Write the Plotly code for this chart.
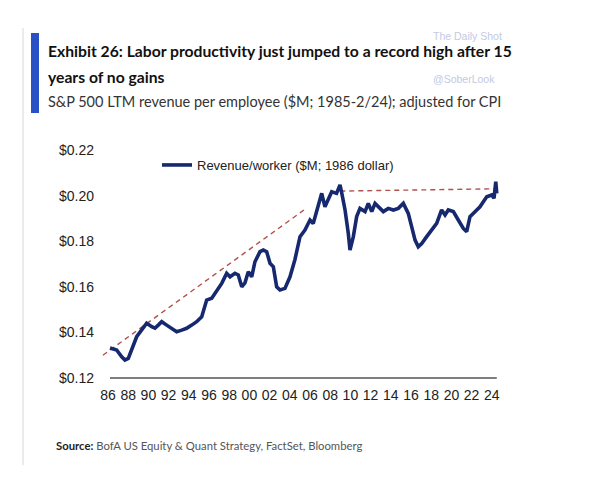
import plotly.graph_objects as go

# ---- data ----
years = [1986.20, 1986.86, 1987.36, 1987.68, 1988.01, 1988.50, 1988.84, 1989.34, 1989.83, 1990.33,
         1990.65, 1990.98, 1991.32, 1991.81, 1992.31, 1992.80, 1993.30, 1993.79, 1994.29, 1994.78,
         1995.28, 1995.77, 1996.27, 1996.76, 1997.26, 1997.75, 1998.08, 1998.57, 1998.90, 1999.24,
         1999.56, 1999.89, 2000.23, 2000.55, 2001.05, 2001.38, 2001.71, 2002.04, 2002.37, 2002.70,
         2003.03, 2003.52, 2004.02, 2004.51, 2005.01, 2005.50, 2006.00, 2006.32, 2006.82, 2007.16,
         2007.48, 2007.81, 2008.15, 2008.63, 2008.97, 2009.15, 2009.47, 2009.79, 2009.96, 2010.29,
         2010.62, 2010.95, 2011.45, 2011.77, 2012.11, 2012.44, 2012.76, 2013.26, 2013.75, 2014.25,
         2014.74, 2015.24, 2015.73, 2016.06, 2016.40, 2016.72, 2017.06, 2017.55, 2018.05, 2018.54,
         2019.03, 2019.37, 2019.69, 2020.19, 2020.68, 2021.18, 2021.51, 2021.84, 2022.16, 2022.51,
         2022.83, 2023.16, 2023.50, 2023.99, 2024.22, 2024.39, 2024.49]
revenue_per_worker = [0.1332, 0.1323, 0.1293, 0.1279, 0.1286, 0.1337, 0.1381, 0.1411, 0.1440, 0.1425,
                      0.1419, 0.1432, 0.1447, 0.1432, 0.1418, 0.1403, 0.1410, 0.1418, 0.1432, 0.1447,
                      0.1469, 0.1542, 0.1550, 0.1579, 0.1615, 0.1659, 0.1644, 0.1659, 0.1652, 0.1600,
                      0.1617, 0.1666, 0.1644, 0.1710, 0.1754, 0.1761, 0.1754, 0.1703, 0.1688, 0.1600,
                      0.1586, 0.1593, 0.1644, 0.1720, 0.1820, 0.1849, 0.1893, 0.1878, 0.1966, 0.2010,
                      0.1951, 0.1988, 0.2017, 0.2010, 0.2047, 0.2010, 0.1937, 0.1835, 0.1761, 0.1820,
                      0.1908, 0.1944, 0.1930, 0.1966, 0.1930, 0.1966, 0.1951, 0.1930, 0.1944, 0.1937,
                      0.1944, 0.1966, 0.1922, 0.1864, 0.1805, 0.1776, 0.1790, 0.1820, 0.1849, 0.1878,
                      0.1937, 0.1915, 0.1937, 0.1930, 0.1893, 0.1856, 0.1842, 0.1908, 0.1922, 0.1937,
                      0.1951, 0.1973, 0.1995, 0.2003, 0.1988, 0.2061, 0.2010]

trend1_years = [1985.5, 2005.5]
trend1_values = [0.1300, 0.1940]
trend2_years = [2009.0, 2024.6]
trend2_values = [0.2020, 0.2030]

xtick_years = list(range(1986, 2025, 2))
xtick_labels = [f"{y % 100:02d}" for y in xtick_years]
ytick_values = [0.12, 0.14, 0.16, 0.18, 0.20, 0.22]
ytick_labels = ["$0.12", "$0.14", "$0.16", "$0.18", "$0.20", "$0.22"]

# ---- layout geometry (page body adds an 8px offset) ----
OFF = 8
W, H = 600, 500
L, R, T, B = 100 - OFF, 100 + OFF, 140 - OFF, 115 + OFF
PW, PH = W - L - R, H - T - B


def px(xp):
    return (xp - OFF - L) / PW


def py(yp):
    return (H - B - (yp - OFF)) / PH


NAVY = "#16296e"
TREND = "#b0514b"
TICKFONT = "Liberation Sans, Arial, sans-serif"
HUMAN = "Lato, Liberation Sans, sans-serif"

fig = go.Figure()
fig.add_trace(go.Scatter(x=trend1_years, y=trend1_values, mode="lines",
                         line=dict(color=TREND, width=1.4, dash="5px,4px"),
                         showlegend=False, hoverinfo="skip"))
fig.add_trace(go.Scatter(x=trend2_years, y=trend2_values, mode="lines",
                         line=dict(color=TREND, width=1.4, dash="5px,4px"),
                         showlegend=False, hoverinfo="skip"))
fig.add_trace(go.Scatter(x=years, y=revenue_per_worker, mode="lines",
                         name="Revenue/worker ($M; 1986 dollar)",
                         line=dict(color=NAVY, width=3.6)))

# x axis baseline
fig.add_shape(type="line", xref="x", yref="y", x0=years[0], x1=years[-1],
              y0=0.12, y1=0.12, line=dict(color="#555555", width=1.5))

# left blue bar and grey frame line
fig.add_shape(type="rect", xref="paper", yref="paper", x0=px(31), x1=px(39),
              y0=py(113), y1=py(33), fillcolor="#2751c4", line=dict(width=0))
fig.add_shape(type="line", xref="paper", yref="paper", x0=px(23), x1=px(23),
              y0=py(465), y1=py(28), line=dict(color="#d8d8d8", width=1))

ann = []
ann.append(dict(text="<b>Exhibit 26: Labor productivity just jumped to a record high after 15</b>",
                x=px(46), y=py(51), font=dict(family=HUMAN, size=15.7, color="#111111")))
ann.append(dict(text="<b>years of no gains</b>",
                x=px(46), y=py(77), font=dict(family=HUMAN, size=15.7, color="#111111")))
ann.append(dict(text="S&P 500 LTM revenue per employee ($M; 1985-2/24); adjusted for CPI",
                x=px(46), y=py(101), font=dict(family=HUMAN, size=14.5, color="#333333")))
ann.append(dict(text="<b>Source:</b> <span style='color:#555555'>BofA US Equity & Quant Strategy, FactSet, Bloomberg</span>",
                x=px(54), y=py(446), font=dict(family=HUMAN, size=11.3, color="#222222")))
ann.append(dict(text="The Daily Shot", x=px(431), y=py(36),
                font=dict(family=TICKFONT, size=10.5, color="#c3c9df")))
ann.append(dict(text="@SoberLook", x=px(431), y=py(79),
                font=dict(family=TICKFONT, size=10.5, color="#c3c9df")))
for a in ann:
    a.update(xref="paper", yref="paper", xanchor="left", yanchor="middle",
             showarrow=False, align="left")

fig.update_layout(
    width=W, height=H,
    margin=dict(l=L, r=R, t=T, b=B),
    paper_bgcolor="white", plot_bgcolor="white",
    annotations=ann,
    showlegend=True,
    legend=dict(x=px(157), y=py(150), xanchor="left", yanchor="top",
                bgcolor="rgba(0,0,0,0)", font=dict(family=TICKFONT, size=13, color="#222222"),
                itemwidth=30, tracegroupgap=0),
    xaxis=dict(range=[1985.21, 2024.81], showgrid=False, zeroline=False, showline=False,
               tickvals=xtick_years, ticktext=xtick_labels, ticks="",
               tickfont=dict(family=TICKFONT, size=14, color="#222222")),
    yaxis=dict(range=[0.11693, 0.2244], showgrid=False, zeroline=False, showline=False,
               tickvals=ytick_values, ticktext=ytick_labels, ticks="",
               ticklabelstandoff=5,
               tickfont=dict(family=TICKFONT, size=14, color="#222222")),
)

fig.write_html("out.html")
